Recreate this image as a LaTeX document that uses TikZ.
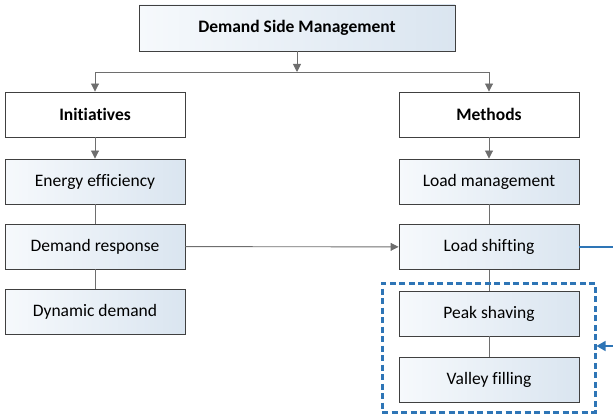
\documentclass[tikz,border=0pt]{standalone}
\usepackage{fontspec}
\setmainfont{Carlito}[Ligatures = NoCommon]
\usepackage{xcolor}
\usepackage{tikz}
\usetikzlibrary{arrows.meta}

\definecolor{boxline}{RGB}{64,64,64}
\definecolor{conn}{RGB}{110,110,110}
\definecolor{shadeA}{RGB}{246,249,252}
\definecolor{shadeB}{RGB}{218,229,240}
\definecolor{dsmblue}{RGB}{46,117,182}

\tikzset{
    plainbox/.style = {draw = boxline, fill = white, line width = 0.9pt,
        minimum width = 180pt, minimum height = 45pt, inner sep = 0pt,
        font = \fontsize{17.5}{20}\selectfont\bfseries},
    shadebox/.style = {plainbox, left color = shadeA, right color = shadeB,
        font = \fontsize{17.5}{20}\selectfont},
    link/.style = {draw = conn, line width = 0.9pt},
    linkarrow/.style = {link, -{Triangle[length = 8pt, width = 8pt]}},
    blueline/.style = {draw = dsmblue, line width = 1.2pt}
}

\begin{document}
\begin{tikzpicture}[x = 1pt, y = -1pt]
        \useasboundingbox (0, 0) rectangle (613, 417);

        % top
        \node [shadebox, minimum width = 316pt, minimum height = 46pt,
            font = \fontsize{17.5}{20}\selectfont\bfseries] (dsm) at (297, 28)
            {Demand Side Management};
        \coordinate (split) at (297, 72);

        % left column
        \node [plainbox] (init) at (95, 114.5) {Initiatives};
        \node [shadebox] (ee) at (95, 181.5) {Energy efficiency};
        \node [shadebox] (dr) at (95, 246.5) {Demand response};
        \node [shadebox] (dd) at (95, 311.5) {Dynamic demand};

        % right column
        \node [plainbox] (meth) at (489, 114.5) {Methods};
        \node [shadebox] (lm) at (489, 181.5) {Load management};
        \node [shadebox] (ls) at (489, 247) {Load shifting};
        \node [shadebox] (ps) at (489, 313.5) {Peak shaving};
        \node [shadebox] (vf) at (489, 380) {Valley filling};

        \draw [linkarrow] (dsm) -- (split);
        \draw [linkarrow] (split) -| (init);
        \draw [linkarrow] (split) -| (meth);
        \draw [linkarrow] (init) -- (ee);
        \draw [link] (ee) -- (dr);
        \draw [link] (dr) -- (dd);
        \draw [linkarrow] (meth) -- (lm);
        \draw [link] (lm) -- (ls);
        \draw [link] (ls) -- (ps);
        \draw [link] (ps) -- (vf);
        \draw [linkarrow] (dr) -- (ls);

        % grouped methods
        \node [draw = dsmblue, line width = 3pt, dash pattern = on 6pt off 3.5pt,
            minimum width = 213pt, minimum height = 129pt, inner sep = 0pt]
            (group) at (488.5, 347.5) {};
        \coordinate (lsout) at (613, 247);
        \coordinate (back) at (613, 346);
        \draw [blueline] (ls) -- (lsout);
        \draw [blueline, -{Triangle[length = 9pt, width = 10pt]}]
            (back) -- (back -| group.east);
    \end{tikzpicture}
\end{document}
